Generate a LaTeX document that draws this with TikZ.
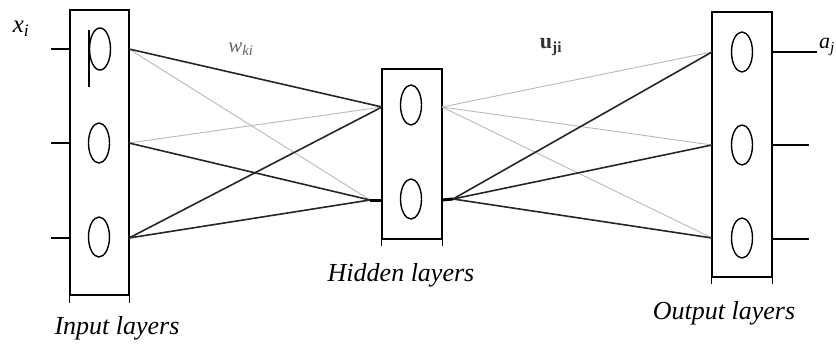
\documentclass[tikz,border=0pt]{standalone}
\usepackage{fontspec}
\setmainfont{Liberation Serif}
\usetikzlibrary{shapes.geometric}
\begin{document}
\begin{tikzpicture}[x=1pt,y=-1pt,
  layerbox/.style={draw,line width=1.1pt,inner sep=0pt},
  neuron/.style={draw,ellipse,line width=1.4pt,minimum width=21pt,minimum height=40pt,inner sep=0pt},
  strong/.style={line width=1.6pt,black!85},
  weak/.style={line width=0.9pt,black!28},
  stub/.style={line width=1.2pt},
  caption/.style={font=\fontsize{26}{30}\selectfont\itshape,inner sep=0pt},
  symbol/.style={inner sep=0pt,font=\fontsize{25}{30}\selectfont\itshape}
]
\useasboundingbox (0,0) rectangle (836,345);

% layer boxes
\node[layerbox,minimum width=59pt,minimum height=285pt] (inbox) at (99.5,152.5) {};
\node[layerbox,minimum width=60pt,minimum height=170pt] (hidbox) at (412,154) {};
\node[layerbox,minimum width=60pt,minimum height=265pt] (outbox) at (742,144.5) {};
% side lines running past the bottom edge
\draw[line width=1.1pt] (inbox.south west) -- ++(0,7) (inbox.south east) -- ++(0,7);
\draw[line width=1.1pt] (hidbox.south west) -- ++(0,6) (hidbox.south east) -- ++(0,6);
\draw[line width=1.1pt] (outbox.south west) -- ++(0,6) (outbox.south east) -- ++(0,6);

% input neurons (the first one drawn as a "p")
\node[neuron,minimum height=42pt] (in1) at (100,49) {};
\coordinate (stemtop) at (89,30);
\coordinate (stembot) at (89,87);
\draw[line width=1.4pt] (stemtop) -- (stembot);
\node[neuron] (in2) at (99,143) {};
\node[neuron] (in3) at (99,237) {};

% hidden neurons
\node[neuron] (h1) at (411,105) {};
\node[neuron] (h2) at (411,199) {};

% output neurons
\node[neuron] (o1) at (742,52) {};
\node[neuron] (o2) at (742,145) {};
\node[neuron] (o3) at (742,238) {};

% connection points on the box edges
\coordinate (ia) at (129,49);
\coordinate (ib) at (129,143);
\coordinate (ic) at (129,238);
\coordinate (hla) at (382,107);
\coordinate (hlb) at (382,200);
\coordinate (hlbj) at (370,200);
\coordinate (hra) at (442,107);
\coordinate (hrb) at (442,200);
\coordinate (hrbj) at (453,199);
\coordinate (oa) at (712,52);
\coordinate (ob) at (712,145);
\coordinate (oc) at (712,238);

% input -> hidden weights
\draw[weak] (ia) -- (hlbj);
\draw[weak] (ib) -- (hla);
\draw[strong] (ia) -- (hla);
\draw[strong] (ib) -- (hlbj);
\draw[strong] (ic) -- (hla);
\draw[strong] (ic) -- (hlbj);
\draw[line width=3pt] (hlbj) -- (hlb);

% hidden -> output weights
\draw[weak] (hra) -- (oa);
\draw[weak] (hra) -- (ob);
\draw[weak] (hra) -- (oc);
\draw[strong] (hrbj) -- (oa);
\draw[strong] (hrbj) -- (ob);
\draw[strong] (hrbj) -- (oc);
\draw[line width=3pt] (hrb) -- (hrbj);

% input and output stubs
\coordinate (xa) at (51,49);
\coordinate (xb) at (51,143);
\coordinate (xc) at (51,238);
\draw[stub] (xa) -- (inbox.west |- xa);
\draw[stub] (xb) -- (inbox.west |- xb);
\draw[stub] (xc) -- (inbox.west |- xc);
\coordinate (ya) at (817,52);
\coordinate (yb) at (809,145);
\coordinate (yc) at (809,239);
\draw[stub] (outbox.east |- ya) -- (ya);
\draw[stub] (outbox.east |- yb) -- (yb);
\draw[stub] (outbox.east |- yc) -- (yc);

% labels
\node[symbol] (xlab) at (21,29) {x\textsubscript{i}};
\node[symbol,anchor=west,font=\fontsize{22}{26}\selectfont\itshape] (alab) at (819,47) {a\textsubscript{j}};
\node[symbol,text=black!60,font=\fontsize{21}{24}\selectfont\itshape] (wlab) at (241,49) {w\textsubscript{ki}};
\node[inner sep=0pt,text=black!80,font=\fontsize{22}{26}\selectfont] (ulab) at (551,47) {\textbf{u}\textsubscript{\textbf{ji}}};
\node[caption] (incap) at (117,328) {Input layers};
\node[caption] (hidcap) at (401,275) {Hidden layers};
\node[caption] (outcap) at (724,313) {Output layers};
\end{tikzpicture}
\end{document}
